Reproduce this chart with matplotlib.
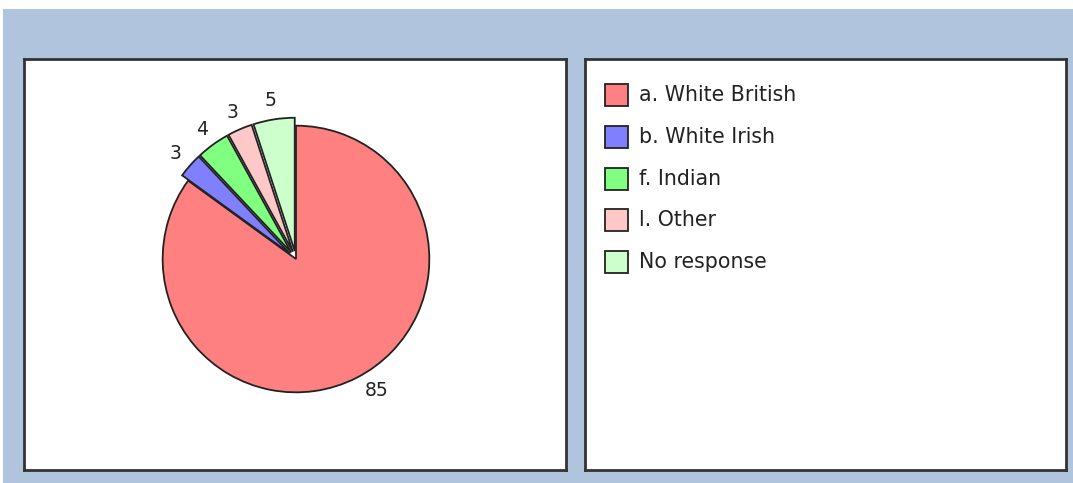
import numpy as np
import matplotlib.pyplot as plt
from matplotlib.patches import Rectangle

# ----------------------------
# DATA
# ----------------------------
LABELS = ["a. White British", "b. White Irish", "f. Indian", "l. Other", "No response"]
VALUES = [85, 3, 4, 3, 5]
COLORS = ["#ff8080", "#8080ff", "#80ff80", "#ffc8c8", "#ccffcc"]
EXPLODE = [0.0, 0.06, 0.06, 0.06, 0.06]

W, H = 1073, 483
BG = "#b0c4de"
EDGE = "#333333"

plt.rcParams["font.family"] = ["DejaVu Sans"]

fig = plt.figure(figsize=(W / 100, H / 100), dpi=100)
fig.patch.set_facecolor("white")


def px_axes(x0, y0, x1, y1, **kw):
    # axes from pixel box (top-left origin)
    return fig.add_axes([x0 / W, 1 - y1 / H, (x1 - x0) / W, (y1 - y0) / H], **kw)


# blue backdrop
bg = px_axes(3, 9, W, H)
bg.set_facecolor(BG)
bg.set_xticks([])
bg.set_yticks([])
for s in bg.spines.values():
    s.set_visible(False)

# panels
for box in [(24, 59, 566, 470), (585, 59, 1066, 470)]:
    ax = px_axes(*box)
    ax.set_facecolor("white")
    ax.set_xticks([])
    ax.set_yticks([])
    for s in ax.spines.values():
        s.set_color(EDGE)
        s.set_linewidth(2)

# pie
cx, cy, half = 296, 259, 200
pie_ax = px_axes(cx - half, cy - half, cx + half, cy + half)
pie_ax.set_facecolor("none")
pie_ax.axis("off")
wedges, texts = pie_ax.pie(
    VALUES,
    colors=COLORS,
    explode=EXPLODE,
    labels=[str(v) for v in VALUES],
    startangle=90,
    counterclock=False,
    radius=1.0,
    labeldistance=1.14,
    wedgeprops=dict(edgecolor="#222222", linewidth=1.3),
    textprops=dict(fontsize=13.5, color="#222222"),
)
for t in texts:
    t.set_ha("center")
    t.set_va("center")
# the big slice's label sits a bit further round and closer in
x, y = texts[0].get_position()
a = np.deg2rad(4.5)
k = 1.155 / 1.14
texts[0].set_position((k * (x * np.cos(a) - y * np.sin(a)),
                       k * (y * np.cos(a) + x * np.sin(a))))
pie_ax.set_xlim(-1.5, 1.5)
pie_ax.set_ylim(-1.5, 1.5)
pie_ax.set_aspect("equal")

# legend
leg_ax = px_axes(585, 59, 1066, 470)
leg_ax.set_xlim(0, 1066 - 585)
leg_ax.set_ylim(470 - 59, 0)
leg_ax.axis("off")
for i, (lab, col) in enumerate(zip(LABELS, COLORS)):
    yc = 95 + i * 41.8 - 59
    leg_ax.add_patch(Rectangle((605 - 585, yc - 11), 23, 22,
                               facecolor=col, edgecolor="#222222", linewidth=1.3))
    leg_ax.text(639 - 585, yc, lab, fontsize=14.8, color="#222222",
                va="center", ha="left")

fig.savefig("out.png", dpi=100)
